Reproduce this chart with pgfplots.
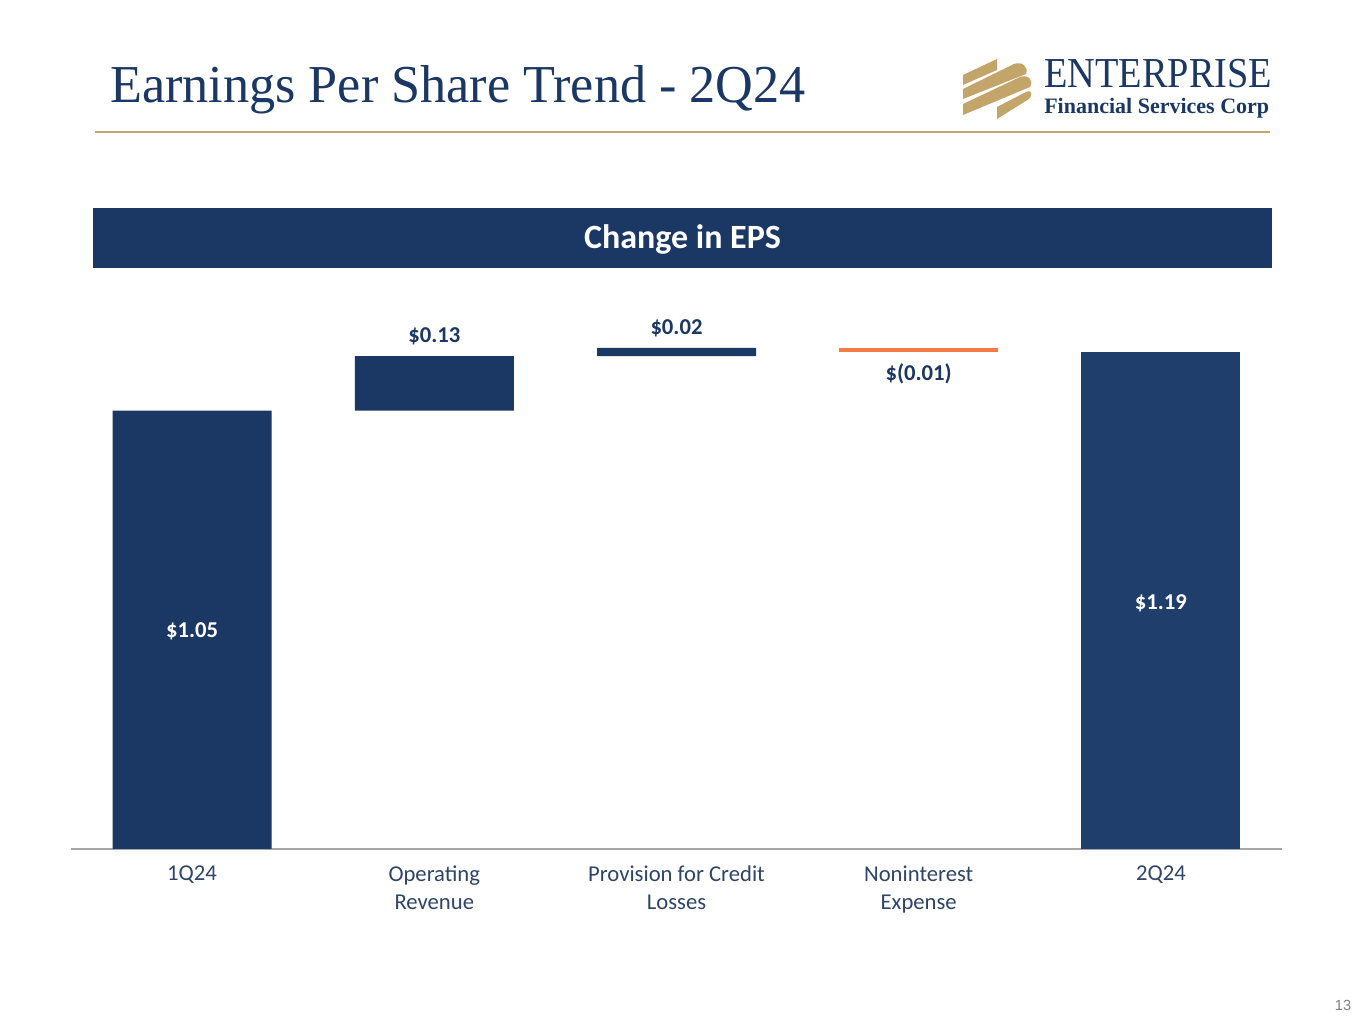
\documentclass[border=0pt]{standalone}
\usepackage{pgfplots}
\pgfplotsset{compat=1.18}
\usepackage{fontspec}
\setmainfont{Carlito}
\newfontfamily\titlefont{Liberation Serif}
\newfontfamily\numfont{Liberation Sans}
\definecolor{navy}{HTML}{1B3764}
\definecolor{bartwo}{HTML}{1F3E6C}
\definecolor{orng}{HTML}{F47C44}
\definecolor{gold}{HTML}{C3A469}
\definecolor{axgray}{HTML}{A6A6A6}
\definecolor{ticktext}{HTML}{2E4468}
\begin{document}
\begin{tikzpicture}[x=0.75pt,y=0.75pt]
\path[use as bounding box, fill=white] (0,0) rectangle (1365,1024);
% title
\node[anchor=base west, inner sep=0, text=navy, font=\titlefont\fontsize{40}{48}\selectfont, xscale=0.979] at (110,921) {Earnings Per Share Trend - 2Q24};
\draw[gold, line width=2.2pt] (95,892) -- (1270,892);
% logo
\fill[gold] (963,939) -- (963,949) -- (997,965) -- (997,954) -- cycle;
\fill[gold] (963,925) -- (963,935) -- (1014,960) .. controls (1022,963) and (1029,957) .. (1026,950) -- cycle;
\fill[gold] (963,909) -- (963,920) -- (1020,947) .. controls (1029,950) and (1034,943) .. (1030,937) -- cycle;
\fill[gold] (997,905) -- (997,917) -- (1026,932) .. controls (1033,935) and (1032,928) .. (1029,925) -- cycle;
\node[anchor=base west, inner sep=0, text=navy, font=\titlefont\fontsize{32}{34}\selectfont, xscale=0.898] at (1044,936) {ENTERPRISE};
\node[anchor=base west, inner sep=0, text=navy, font=\titlefont\bfseries\fontsize{16.5}{18}\selectfont] at (1044,910) {Financial Services Corp};
% header band
\fill[navy] (93,756) rectangle (1272,816);
\node[text=white, font=\bfseries\fontsize{25.5}{30}\selectfont] at (682.5,785) {Change in EPS};
% page number
\node[text=gray, font=\numfont\fontsize{11}{13}\selectfont] at (1343,19) {13};
\begin{axis}[
  at={(53.25pt,131.25pt)}, anchor=south west,
  width=908.25pt, height=391.5pt, scale only axis,
  xmin=-0.5, xmax=4.5, ymin=0, ymax=1.25,
  axis x line*=bottom, axis y line=none,
  axis line style={draw=axgray, line width=1.5pt, -},
  xtick={0,1,2,3,4},
  xticklabels={1Q24,{Operating\\Revenue},{Provision for Credit\\Losses},{Noninterest\\Expense},2Q24},
  xticklabel style={align=center, font=\fontsize{17}{21}\selectfont, text=ticktext, yshift=-9pt},
  major tick length=0pt, ytick=\empty,
  ybar stacked, bar width=119.25pt,
  clip=false,
]
\addplot[draw=none, fill=none] coordinates {(0,0) (1,1.05) (2,1.18) (3,1.19) (4,0)};
\addplot[fill=navy, draw=none] coordinates {(0,1.05) (1,0.13) (2,0.02) (3,0) (4,0)};
\addplot[fill=orng, draw=none] coordinates {(0,0) (1,0) (2,0) (3,0.01) (4,0)};
\addplot[fill=bartwo, draw=none] coordinates {(0,0) (1,0) (2,0) (3,0) (4,1.19)};
\coordinate (la) at (axis cs:0,0.527);
\coordinate (lb) at (axis cs:4,0.594);
\coordinate (lc) at (axis cs:1,1.2335);
\coordinate (ld) at (axis cs:2,1.2527);
\coordinate (le) at (axis cs:3,1.1425);
\end{axis}
\tikzset{lab/.style={font=\bfseries\fontsize{17}{20}\selectfont, yshift=-1.5pt}}
\node[lab, text=white] at (la) {\$1.05};
\node[lab, text=white] at (lb) {\$1.19};
\node[lab, text=navy] at (lc) {\$0.13};
\node[lab, text=navy] at (ld) {\$0.02};
\node[lab, text=navy] at (le) {\$(0.01)};
\end{tikzpicture}
\end{document}
